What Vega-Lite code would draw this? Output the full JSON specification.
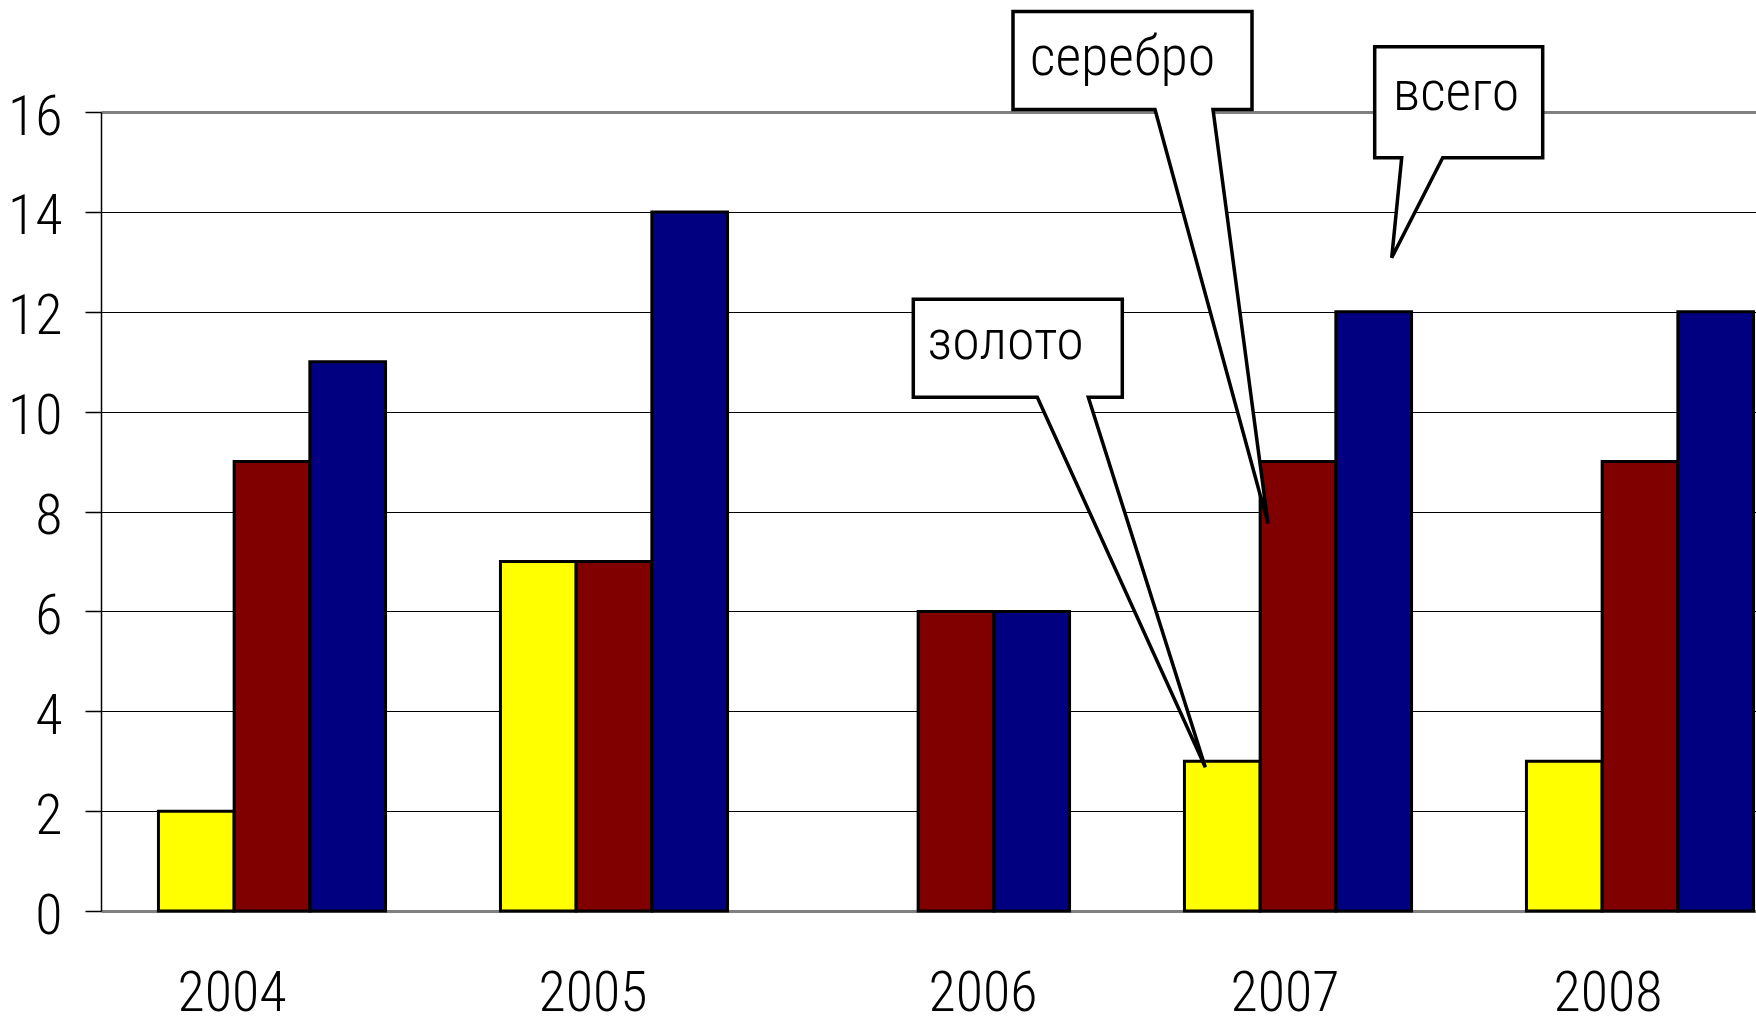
{
  "$schema": "https://vega.github.io/schema/vega-lite/v6.json",
  "autosize": {"type": "none"},
  "padding": {"left": 101, "top": 112, "right": 0, "bottom": 115},
  "width": 1655,
  "height": 799,
  "background": "white",
  "config": {
    "view": {"stroke": null},
    "font": "Liberation Sans Narrow, Arial Narrow, Roboto Condensed, Noto Sans Condensed, Open Sans Condensed, DejaVu Sans Condensed, Liberation Sans, sans-serif"
  },
  "datasets": {
    "medals": [
      {"year": "2004", "series": "золото", "value": 2},
      {"year": "2004", "series": "серебро", "value": 9},
      {"year": "2004", "series": "всего", "value": 11},
      {"year": "2005", "series": "золото", "value": 7},
      {"year": "2005", "series": "серебро", "value": 7},
      {"year": "2005", "series": "всего", "value": 14},
      {"year": "2006", "series": "серебро", "value": 6},
      {"year": "2006", "series": "всего", "value": 6},
      {"year": "2007", "series": "золото", "value": 3},
      {"year": "2007", "series": "серебро", "value": 9},
      {"year": "2007", "series": "всего", "value": 12},
      {"year": "2008", "series": "золото", "value": 3},
      {"year": "2008", "series": "серебро", "value": 9},
      {"year": "2008", "series": "всего", "value": 12}
    ],
    "callouts": [
      {"label": "золото", "year": "2007", "series": "золото", "value": 3},
      {"label": "серебро", "year": "2007", "series": "серебро", "value": 9},
      {"label": "всего", "year": "2007", "series": "всего", "value": 12}
    ]
  },
  "encoding": {
    "x": {
      "field": "year",
      "type": "nominal",
      "sort": ["2004", "2005", "2006", "2007", "2008"],
      "scale": {
        "domain": ["2004", "2005", "2006", "2007", "2008"],
        "range": [0, 1710],
        "paddingInner": 0.336,
        "paddingOuter": 0.168
      },
      "axis": {
        "title": null,
        "labelAngle": 0,
        "domain": false,
        "ticks": false,
        "tickSize": 0,
        "grid": false,
        "labelFont": "Liberation Sans Narrow, Arial Narrow, Roboto Condensed, Noto Sans Condensed, Open Sans Condensed, DejaVu Sans Condensed, Liberation Sans, sans-serif",
        "labelFontSize": 56,
        "labelFontWeight": 300,
        "labelColor": "#000000",
        "labelBaseline": "alphabetic",
        "labelPadding": 99,
        "labelOffset": {
          "condition": [
            {"test": "datum.value == '2004'", "value": -40},
            {"test": "datum.value == '2005'", "value": -21},
            {"test": "datum.value == '2006'", "value": 27},
            {"test": "datum.value == '2007'", "value": -13},
            {"test": "datum.value == '2008'", "value": -32}
          ],
          "value": 0
        }
      }
    },
    "xOffset": {
      "field": "series",
      "type": "nominal",
      "sort": ["золото", "серебро", "всего"],
      "scale": {"domain": ["золото", "серебро", "всего"], "paddingInner": 0, "paddingOuter": 0}
    },
    "y": {
      "field": "value",
      "type": "quantitative",
      "scale": {"domain": [0, 16], "nice": false, "zero": true},
      "axis": {
        "title": null,
        "values": [0, 2, 4, 6, 8, 10, 12, 14, 16],
        "domain": true,
        "domainColor": "#000000",
        "domainWidth": 1.5,
        "ticks": true,
        "tickColor": "#000000",
        "tickWidth": 1.5,
        "tickSize": 16,
        "labelFont": "Liberation Sans Narrow, Arial Narrow, Roboto Condensed, Noto Sans Condensed, Open Sans Condensed, DejaVu Sans Condensed, Liberation Sans, sans-serif",
        "labelFontSize": 56,
        "labelFontWeight": 300,
        "labelColor": "#000000",
        "labelBaseline": "alphabetic",
        "labelOffset": 22,
        "labelPadding": 23,
        "grid": true,
        "gridColor": {"condition": {"test": "datum.value == 16 || datum.value == 0", "value": "#808080"}, "value": "#000000"},
        "gridWidth": {"condition": {"test": "datum.value == 16 || datum.value == 0", "value": 3}, "value": 1.2},
        "gridOpacity": 1
      }
    }
  },
  "layer": [
    {
      "data": {"name": "medals"},
      "mark": {"type": "bar", "stroke": "#000000", "strokeWidth": 3, "strokeJoin": "miter"},
      "encoding": {
        "color": {
          "field": "series",
          "type": "nominal",
          "scale": {"domain": ["золото", "серебро", "всего"], "range": ["#FFFF00", "#800000", "#000080"]},
          "legend": null
        }
      }
    },
    {
      "data": {"name": "callouts"},
      "mark": {"type": "point", "filled": true, "fill": "#FFFFFF", "stroke": "#000000", "strokeWidth": 3.5, "strokeJoin": "miter", "opacity": 1, "size": 4},
      "encoding": {
        "shape": {
          "field": "label",
          "type": "nominal",
          "scale": {
            "domain": ["золото", "серебро", "всего"],
            "range": [
              "M-309,-462H-100V-364H-134L-17,6L-185,-364H-309Z",
              "M-285,-450H-46V-352H-85L-30,62L-143,-352H-285Z",
              "M1,-265H169V-154H69L18,-54L28,-154H1Z"
            ]
          },
          "legend": null
        }
      }
    },
    {
      "data": {"name": "callouts"},
      "transform": [{"filter": "datum.label == 'золото'"}],
      "mark": {"type": "text", "align": "left", "baseline": "alphabetic", "dx": -295, "dy": -402, "fontSize": 56, "fontWeight": 300, "font": "Liberation Sans Narrow, Arial Narrow, Roboto Condensed, Noto Sans Condensed, Open Sans Condensed, DejaVu Sans Condensed, Liberation Sans, sans-serif", "color": "#000000"},
      "encoding": {"text": {"field": "label"}}
    },
    {
      "data": {"name": "callouts"},
      "transform": [{"filter": "datum.label == 'серебро'"}],
      "mark": {"type": "text", "align": "left", "baseline": "alphabetic", "dx": -268, "dy": -387, "fontSize": 56, "fontWeight": 300, "font": "Liberation Sans Narrow, Arial Narrow, Roboto Condensed, Noto Sans Condensed, Open Sans Condensed, DejaVu Sans Condensed, Liberation Sans, sans-serif", "color": "#000000"},
      "encoding": {"text": {"field": "label"}}
    },
    {
      "data": {"name": "callouts"},
      "transform": [{"filter": "datum.label == 'всего'"}],
      "mark": {"type": "text", "align": "left", "baseline": "alphabetic", "dx": 19, "dy": -202, "fontSize": 56, "fontWeight": 300, "font": "Liberation Sans Narrow, Arial Narrow, Roboto Condensed, Noto Sans Condensed, Open Sans Condensed, DejaVu Sans Condensed, Liberation Sans, sans-serif", "color": "#000000"},
      "encoding": {"text": {"field": "label"}}
    }
  ]
}
